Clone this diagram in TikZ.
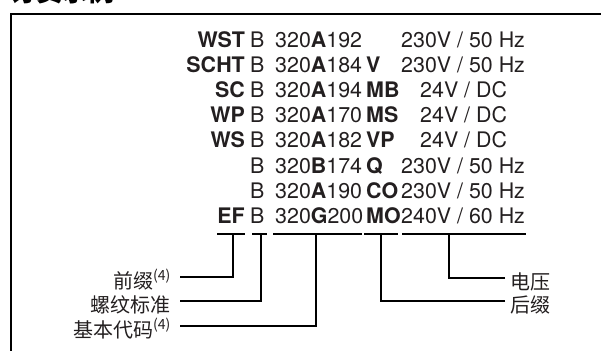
\documentclass[tikz,border=0pt]{standalone}
\usepackage{fontspec}
\setmainfont{TeX Gyre Heros}
\newfontfamily\cjk{Noto Sans CJK SC}
\usetikzlibrary{positioning}
\definecolor{ink}{HTML}{231F20}

\tikzset{
  row/.style={inner sep=0pt, text=ink, font=\fontsize{21.4}{25}\selectfont},
  lbl/.style={inner ysep=0pt, inner xsep=9pt, text=ink, text height=25pt, text depth=2pt,
              font=\cjk\fontsize{20}{24}\selectfont},
  uline/.style={line width=2pt},
  wire/.style={line width=1.8pt},
  frame/.style={line width=2.6pt}
}

\begin{document}
\begin{tikzpicture}[x=1pt, y=-1pt]
    \useasboundingbox (0,0) rectangle (601,350);
    \clip (0,0) rectangle (601,350);
    % title, mostly cut off by the top edge
    \node[anchor=base west, inner sep=0pt, font=\cjk\bfseries\fontsize{26}{26}\selectfont] (title) at (10,2) {订货示例};
    % frame
    \draw[frame] (11,14) rectangle (640,380);
    % the eight order codes
    \foreach \pre/\code/\suf/\volt/\vx [count=\i] in {
        WST/320\textbf{A}192//{230V / 50 Hz}/401,
        SCHT/320\textbf{A}184/V/{230V / 50 Hz}/401,
        SC/320\textbf{A}194/MB/{24V / DC}/420,
        WP/320\textbf{A}170/MS/{24V / DC}/420,
        WS/320\textbf{A}182/VP/{24V / DC}/420,
        /320\textbf{B}174/Q/{230V / 50 Hz}/401,
        /320\textbf{A}190/CO/{230V / 50 Hz}/401,
        EF/320\textbf{G}200/MO/{240V / 60 Hz}/401} {
      \pgfmathsetmacro\yy{47.5+25.1*(\i-1)}
      \node[row, anchor=base east, font=\bfseries\fontsize{21.4}{25}\selectfont] (pre\i) at (245,\yy) {\pre};
      \node[row, anchor=base west] (b\i) at (250,\yy) {B};
      \node[row, anchor=base west] (code\i) at (275,\yy) {\code};
      \node[row, anchor=base west, font=\bfseries\fontsize{21.4}{25}\selectfont] (suf\i) at (366,\yy) {\suf};
      \node[row, anchor=base west] (volt\i) at (\vx,\yy) {\volt};
    }
    % underlines of the last code
    \draw[uline] (217,234) -- (245,234)
                 (252,234) -- (267,234)
                 (273,234) -- (362,234)
                 (364,234) -- (398,234)
                 (402,234) -- (526,234);
    \coordinate (u-pre) at (233,234);
    \coordinate (u-std) at (261,234);
    \coordinate (u-code) at (316,234);
    \coordinate (u-suf) at (381,234);
    \coordinate (u-volt) at (449,234);
    % labels
    \node[lbl, anchor=east] (prefix) at (180,277) {前缀\textsuperscript{(4)}};
    \node[lbl, anchor=east] (thread) at (180,301) {螺纹标准};
    \node[lbl, anchor=east] (basic) at (180,326) {基本代码\textsuperscript{(4)}};
    \node[lbl, anchor=west, inner xsep=5pt] (voltage) at (505,278) {电压};
    \node[lbl, anchor=west, inner xsep=5pt] (suffix) at (505,301) {后缀};
    % leaders
    \draw[wire] (prefix.east) -| (u-pre);
    \draw[wire] (thread.east) -| (u-std);
    \draw[wire] (basic.east) -| (u-code);
    \draw[wire] (voltage.west) -| (u-volt);
    \draw[wire] (suffix.west) -| (u-suf);
\end{tikzpicture}
\end{document}
